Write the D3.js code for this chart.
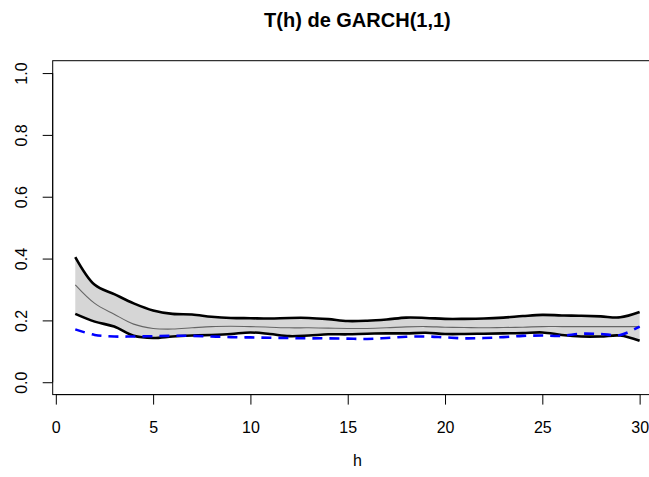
<!DOCTYPE html>
<html>
<head>
<meta charset="utf-8">
<script src="https://cdn.jsdelivr.net/npm/d3@7"></script>
<style>
  html, body { margin: 0; padding: 0; background: #fff; }
  svg { display: block; font-family: "Liberation Sans", Arial, sans-serif; }
</style>
</head>
<body>
<svg id="chart" width="649" height="477"></svg>
<script>
const title = "T(h) de GARCH(1,1)";
const xLabel = "h";
const h = d3.range(1, 31);
const upper = [0.405,0.315,0.285,0.255,0.232,0.221,0.219,0.212,0.208,0.207,
               0.206,0.208,0.208,0.204,0.198,0.199,0.203,0.209,0.208,0.205,
               0.205,0.206,0.209,0.214,0.218,0.216,0.215,0.213,0.210,0.227];
const middle = [0.315,0.255,0.220,0.188,0.174,0.172,0.176,0.180,0.181,0.180,
                0.178,0.176,0.176,0.175,0.174,0.174,0.176,0.179,0.180,0.178,
                0.177,0.176,0.177,0.178,0.180,0.180,0.180,0.180,0.180,0.180];
const lower = [0.221,0.196,0.180,0.150,0.143,0.148,0.151,0.153,0.156,0.161,
               0.156,0.149,0.151,0.155,0.155,0.157,0.158,0.158,0.160,0.156,
               0.156,0.157,0.158,0.159,0.161,0.153,0.148,0.148,0.151,0.134];
const blue = [0.171,0.153,0.148,0.148,0.149,0.150,0.150,0.148,0.146,0.145,
              0.144,0.143,0.142,0.142,0.141,0.140,0.143,0.147,0.148,0.145,
              0.142,0.143,0.146,0.150,0.151,0.150,0.157,0.156,0.153,0.180];
const xTicks = [0, 5, 10, 15, 20, 25, 30];
const yTicks = [0.0, 0.2, 0.4, 0.6, 0.8, 1.0];

const svg = d3.select("#chart");
// plot region (R usr: x in [-0.16, 31.16], y in [-0.04, 1.04])
const x = d3.scaleLinear().domain([-0.16, 31.16]).range([52.7, 662.2]);
const y = d3.scaleLinear().domain([-0.04, 1.04]).range([394.6, 60.7]);

const curve = d3.curveCatmullRom.alpha(0.5);

// band
const band = h.map((v, i) => ({h: v, lo: lower[i], hi: upper[i]}));
svg.append("path")
  .datum(band)
  .attr("d", d3.area().x(d => x(d.h)).y0(d => y(d.lo)).y1(d => y(d.hi)).curve(curve))
  .attr("fill", "#d6d6d6").attr("stroke", "none");

const line = d3.line().x(d => x(d[0])).y(d => y(d[1])).curve(curve);
const pts = arr => h.map((v, i) => [v, arr[i]]);

svg.append("path").datum(pts(middle)).attr("d", line)
  .attr("fill", "none").attr("stroke", "#666").attr("stroke-width", 1.1);
svg.append("path").datum(pts(upper)).attr("d", line)
  .attr("fill", "none").attr("stroke", "#000").attr("stroke-width", 2.6);
svg.append("path").datum(pts(lower)).attr("d", line)
  .attr("fill", "none").attr("stroke", "#000").attr("stroke-width", 2.6);
svg.append("path").datum(pts(blue)).attr("d", line)
  .attr("fill", "none").attr("stroke", "#0000ff").attr("stroke-width", 2.6)
  .attr("stroke-dasharray", "10,7");

// box
svg.append("rect")
  .attr("x", x.range()[0]).attr("y", y.range()[1])
  .attr("width", x.range()[1] - x.range()[0])
  .attr("height", y.range()[0] - y.range()[1])
  .attr("fill", "none").attr("stroke", "#000").attr("stroke-width", 1);

// axes
const xAxis = d3.axisBottom(x).tickValues(xTicks).tickSize(10).tickPadding(17.3)
  .tickFormat(d3.format("d"));
const gx = svg.append("g").attr("transform", `translate(0,${y.range()[0]})`).call(xAxis);
gx.select(".domain").attr("d", `M${x(0)},0H${x(30)}`).attr("stroke", "#000");
gx.selectAll(".tick line").attr("stroke", "#000");
gx.selectAll("text").attr("font-size", 16).attr("fill", "#000")
  .attr("font-family", "Liberation Sans, Arial, sans-serif");

const yAxis = d3.axisLeft(y).tickValues(yTicks).tickSize(10).tickFormat(d3.format(".1f"));
const gy = svg.append("g").attr("transform", `translate(${x.range()[0]},0)`).call(yAxis);
gy.select(".domain").attr("d", `M0,${y(0)}V${y(1)}`).attr("stroke", "#000");
gy.selectAll(".tick line").attr("stroke", "#000");
gy.selectAll("text")
  .attr("font-size", 16).attr("fill", "#000")
  .attr("font-family", "Liberation Sans, Arial, sans-serif")
  .attr("x", null).attr("dy", null)
  .attr("transform", "translate(-25.4,0) rotate(-90)")
  .attr("text-anchor", "middle").attr("dominant-baseline", "auto");

// title & label
svg.append("text").attr("x", (x.range()[0] + x.range()[1]) / 2).attr("y", 27)
  .attr("text-anchor", "middle").attr("font-size", 20).attr("font-weight", "bold")
  .text(title);
svg.append("text").attr("x", (x.range()[0] + x.range()[1]) / 2).attr("y", 466)
  .attr("text-anchor", "middle").attr("font-size", 16).text(xLabel);
</script>
</body>
</html>
